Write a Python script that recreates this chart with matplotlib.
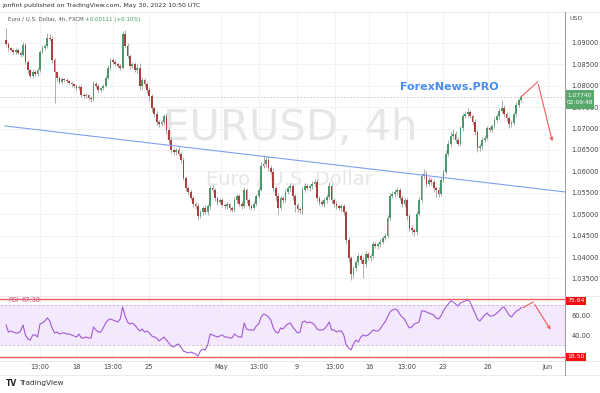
import matplotlib
matplotlib.use("Agg")
import matplotlib.pyplot as plt

# EUR/USD 4h, FXCM
first_open = 1.0907
closes = [
    1.0898, 1.0888, 1.0884, 1.0879, 1.0884, 1.0877, 1.0872, 1.0895, 1.0856, 1.0837,
    1.0823, 1.0832, 1.0828, 1.0837, 1.0879, 1.0888, 1.0893, 1.0912, 1.0910, 1.0860,
    1.0832, 1.0818, 1.0809, 1.0816, 1.0814, 1.0811, 1.0807, 1.0804, 1.0800, 1.0795,
    1.0797, 1.0779, 1.0776, 1.0778, 1.0772, 1.0769, 1.0804, 1.0800, 1.0790, 1.0795,
    1.0800, 1.0818, 1.0842, 1.0860, 1.0856, 1.0851, 1.0846, 1.0842, 1.0921, 1.0893,
    1.0870, 1.0846, 1.0851, 1.0837, 1.0842, 1.0800, 1.0814, 1.0804, 1.0790, 1.0776,
    1.0748, 1.0734, 1.0715, 1.0711, 1.0715, 1.0729, 1.0697, 1.0673, 1.0650, 1.0645,
    1.0650, 1.0641, 1.0627, 1.0585, 1.0561, 1.0552, 1.0538, 1.0524, 1.0519, 1.0496,
    1.0505, 1.0515, 1.0505, 1.0519, 1.0561, 1.0557, 1.0538, 1.0529, 1.0533, 1.0522,
    1.0519, 1.0524, 1.0515, 1.0510, 1.0533, 1.0543, 1.0524, 1.0519, 1.0557, 1.0533,
    1.0519, 1.0515, 1.0524, 1.0543, 1.0557, 1.0613, 1.0617, 1.0627, 1.0608, 1.0599,
    1.0561, 1.0543, 1.0515, 1.0538, 1.0533, 1.0552, 1.0561, 1.0566, 1.0543, 1.0522,
    1.0512, 1.0510, 1.0557, 1.0566, 1.0561, 1.0566, 1.0571, 1.0575, 1.0538, 1.0529,
    1.0524, 1.0533, 1.0540, 1.0566, 1.0533, 1.0524, 1.0519, 1.0515, 1.0519, 1.0505,
    1.0440, 1.0398, 1.0360, 1.0374, 1.0388, 1.0402, 1.0393, 1.0384, 1.0407, 1.0398,
    1.0402, 1.0430, 1.0426, 1.0430, 1.0435, 1.0444, 1.0449, 1.0492, 1.0543, 1.0547,
    1.0552, 1.0557, 1.0538, 1.0524, 1.0533, 1.0496, 1.0468, 1.0463, 1.0458, 1.0501,
    1.0533, 1.0589, 1.0594, 1.0571, 1.0580, 1.0575, 1.0561, 1.0557, 1.0547, 1.0580,
    1.0599, 1.0641, 1.0664, 1.0683, 1.0687, 1.0673, 1.0664, 1.0701, 1.0729, 1.0734,
    1.0739, 1.0729, 1.0715, 1.0692, 1.0655, 1.0659, 1.0673, 1.0678, 1.0701, 1.0697,
    1.0706, 1.0720, 1.0729, 1.0741, 1.0748, 1.0734, 1.0725, 1.0711, 1.0713, 1.0734,
    1.0755, 1.0767, 1.0774,
]
# wick lengths in pips beyond the body
wick_up = [
    28, 4, 3, 5, 3, 4, 3, 6, 5, 4, 3, 6, 4, 5, 4, 6, 5, 11, 8, 5,
    4, 3, 5, 4, 3, 5, 3, 4, 3, 5, 4, 5, 3, 4, 3, 4, 6, 5, 4, 3,
    5, 6, 7, 5, 4, 3, 4, 5, 7, 9, 6, 5, 4, 5, 8, 12, 6, 5, 4, 6,
    5, 4, 6, 4, 5, 6, 8, 5, 7, 4, 5, 6, 5, 7, 4, 5, 6, 5, 4, 6,
    5, 4, 6, 5, 7, 6, 5, 4, 5, 4, 5, 4, 3, 5, 6, 5, 4, 6, 7, 5,
    4, 5, 6, 5, 6, 8, 20, 6, 9, 7, 8, 5, 6, 5, 4, 6, 5, 7, 5, 4,
    5, 4, 6, 7, 5, 4, 6, 8, 7, 5, 4, 5, 6, 8, 5, 4, 6, 5, 4, 5,
    5, 6, 4, 5, 6, 7, 5, 6, 7, 5, 6, 8, 5, 4, 6, 5, 7, 6, 6, 8,
    6, 7, 5, 6, 5, 4, 5, 6, 5, 7, 6, 8, 12, 7, 6, 5, 6, 5, 6, 7,
    6, 8, 10, 9, 12, 8, 7, 6, 7, 6, 9, 5, 6, 7, 5, 6, 7, 6, 5, 6,
    5, 6, 5, 7, 19, 6, 5, 4, 6, 5, 6, 5, 4,
]
wick_dn = [
    5, 6, 4, 5, 6, 4, 5, 3, 5, 7, 6, 4, 5, 6, 4, 3, 5, 4, 5, 6,
    72, 6, 5, 4, 6, 5, 4, 6, 5, 4, 5, 6, 4, 5, 6, 7, 4, 5, 6, 5,
    4, 3, 4, 5, 6, 5, 4, 5, 4, 5, 6, 7, 5, 6, 8, 10, 7, 6, 8, 12,
    9, 7, 6, 8, 6, 7, 9, 8, 6, 7, 6, 5, 7, 6, 8, 7, 6, 8, 7, 9,
    6, 7, 5, 8, 6, 5, 7, 8, 6, 5, 6, 7, 8, 5, 6, 7, 6, 8, 5, 6,
    7, 6, 5, 6, 5, 4, 5, 6, 7, 6, 8, 12, 14, 6, 7, 5, 6, 7, 9, 16,
    8, 7, 10, 6, 5, 6, 7, 5, 8, 7, 6, 8, 7, 5, 6, 7, 8, 6, 7, 8,
    9, 10, 14, 8, 7, 6, 8, 33, 7, 6, 8, 6, 5, 7, 6, 5, 4, 5, 6, 5,
    6, 7, 6, 8, 7, 9, 8, 10, 8, 6, 5, 4, 6, 7, 6, 8, 10, 16, 8, 5,
    4, 5, 6, 7, 8, 6, 5, 4, 6, 5, 6, 5, 7, 8, 9, 7, 6, 5, 4, 6,
    5, 4, 5, 6, 5, 6, 7, 9, 8, 5, 4, 5, 4,
]
rsi = [
    50, 43, 44, 43, 42, 42, 44, 50, 40, 36, 35, 40, 40, 38, 51, 52, 54, 57, 54, 47,
    42, 43, 41, 42, 42, 41, 41, 40, 39, 38, 41, 37, 37, 38, 37, 37, 48, 45, 43, 43,
    47, 52, 55, 56, 55, 54, 53, 56, 68, 59, 53, 51, 52, 50, 47, 44, 46, 43, 44, 42,
    39, 38, 37, 34, 36, 38, 35, 32, 29, 28, 30, 31, 28, 24, 23, 22, 23, 22, 21, 19,
    24, 26, 25, 30, 41, 40, 39, 38, 39, 40, 38, 38, 37, 37, 41, 39, 38, 38, 52, 46,
    45, 45, 45, 49, 51, 58, 61, 60, 58, 55, 47, 43, 42, 47, 46, 49, 51, 52, 48, 45,
    42, 43, 53, 54, 52, 53, 52, 50, 46, 45, 45, 46, 49, 53, 45, 45, 43, 44, 44, 40,
    30, 27, 25, 31, 35, 33, 38, 40, 39, 40, 42, 45, 44, 44, 46, 50, 53, 58, 63, 65,
    66, 65, 61, 58, 56, 51, 47, 48, 51, 52, 53, 64, 64, 63, 62, 61, 60, 57, 56, 59,
    64, 68, 71, 74, 73, 71, 69, 72, 73, 74, 75, 73, 67, 62, 56, 54, 57, 60, 62, 59,
    59, 60, 62, 64, 67, 68, 64, 60, 58, 61, 64, 65, 67.38,
]
price_ticks = [1.035, 1.040, 1.045, 1.050, 1.055, 1.060, 1.065, 1.070, 1.075, 1.080, 1.085, 1.090]
time_pos = [14, 28.8, 44, 58.8, 88.5, 104, 119.8, 135.4, 149.4, 165, 179.8, 198.4, 223]
time_labels = ["13:00", "18", "13:00", "25", "May", "13:00", "9", "13:00", "16", "13:00", "23", "26", "Jun"]
trend_x = [-0.4, 230.0]
trend_y = [1.0706, 1.0552]
proj_x = [212, 218.8, 225.1]
proj_y = [1.0774, 1.0809, 1.0664]
rsi_proj_x = [212.8, 216.9, 224.7]
rsi_proj_y = [67.4, 73.0, 43.0]
rsi_marks = [75.64, 18.50]

W, H = 600, 393
n = len(closes)
idx = list(range(n))
opens = [first_open] + closes[:-1]
highs = [max(o, c) + u * 1e-4 for o, c, u in zip(opens, closes, wick_up)]
lows = [min(o, c) - d * 1e-4 for o, c, d in zip(opens, closes, wick_dn)]
up_col, dn_col = "#4b9a6c", "#ad3f3a"
cols = [up_col if c >= o else dn_col for o, c in zip(opens, closes)]

fig = plt.figure(figsize=(W / 100, H / 100), dpi=100)
fig.patch.set_facecolor("white")

ax = fig.add_axes([0, 1 - 296 / H, 565 / W, 284 / H])
ax2 = fig.add_axes([0, 1 - 360 / H, 565 / W, 64 / H], sharex=ax)

# price pane
ax.text(0.513, 0.59, "EURUSD, 4h", transform=ax.transAxes, ha="center", va="center",
        fontsize=30, color="#e6e6e6", zorder=0)
ax.text(0.513, 0.41, "Euro / U.S. Dollar", transform=ax.transAxes, ha="center", va="center",
        fontsize=14, color="#e6e6e6", zorder=0)
ax.vlines(idx, lows, highs, color="#a0a0a0", lw=0.6, zorder=2)
ax.bar(idx, [abs(c - o) if abs(c - o) > 0.00005 else 0.00005 for o, c in zip(opens, closes)],
       bottom=[min(o, c) for o, c in zip(opens, closes)], width=0.72, color=cols, lw=0, zorder=3)
ax.plot(trend_x, trend_y, color="#7d9ff2", lw=0.8, zorder=4)
ax.axhline(closes[-1], color="#c4c4c4", lw=0.6, ls=(0, (2, 2)), zorder=1)
ax.plot(proj_x[:2], proj_y[:2], color="#f25c5c", lw=0.8, zorder=5)
ax.annotate("", xy=(proj_x[2], proj_y[2]), xytext=(proj_x[1], proj_y[1]),
            arrowprops=dict(arrowstyle="->", color="#f25c5c", lw=0.8, mutation_scale=5), zorder=5)
ax.text(400 / 565, (296 - 87) / 284, "ForexNews.PRO", transform=ax.transAxes, ha="left", va="center",
        fontsize=8, fontweight="bold", color="#4a8df5", zorder=6)

ax.set_xlim(-2.47, 230.04)
ax.set_ylim(1.0309, 1.0972)
ax.set_yticks(price_ticks, [f"{v:.5f}" for v in price_ticks])
ax.yaxis.tick_right()
ax.tick_params(axis="y", length=0, pad=4.5, labelsize=4.8, labelcolor="#444444")
ax.set_xticks(time_pos)
ax.tick_params(axis="x", length=0, labelbottom=False)
ax.grid(color="#f0f0f0", lw=0.6)
ax.set_axisbelow(True)
for s in ax.spines.values():
    s.set_visible(False)

# RSI pane
ax2.axhspan(30, 70, color="#f3e8fd", lw=0, zorder=0)
ax2.axhline(70, color="#c9b3dc", lw=0.6, ls=(0, (3, 2)), zorder=1)
ax2.axhline(30, color="#c9b3dc", lw=0.6, ls=(0, (3, 2)), zorder=1)
for lv in rsi_marks:
    ax2.axhline(lv, color="#f25c5c", lw=1.0, zorder=3)
ax2.plot(idx, rsi, color="#a259d6", lw=0.8, zorder=4)
ax2.plot(rsi_proj_x[:2], rsi_proj_y[:2], color="#f25c5c", lw=0.8, zorder=5)
ax2.annotate("", xy=(rsi_proj_x[2], rsi_proj_y[2]), xytext=(rsi_proj_x[1], rsi_proj_y[1]),
             arrowprops=dict(arrowstyle="->", color="#f25c5c", lw=0.8, mutation_scale=5), zorder=5)
ax2.text(8 / 565, 0.93, "RSI", transform=ax2.transAxes, ha="left", va="center",
         fontsize=4.8, color="#c05a8a")
ax2.text(22 / 565, 0.93, f"{rsi[-1]:.2f}", transform=ax2.transAxes, ha="left", va="center",
         fontsize=4.8, color="#c05a8a")
ax2.set_ylim(15, 79)
ax2.set_yticks([40, 60], ["40.00", "60.00"])
ax2.yaxis.tick_right()
ax2.tick_params(axis="y", length=0, pad=4.5, labelsize=4.8, labelcolor="#444444")
ax2.set_xticks(time_pos, time_labels)
ax2.tick_params(axis="x", length=0, pad=3.2, labelsize=4.8, labelcolor="#444444")
ax2.grid(color="#f0f0f0", lw=0.6)
ax2.set_axisbelow(True)
for s in ax2.spines.values():
    s.set_visible(False)

# frame lines
def hline(y, x0=0, x1=W, c="#e6e6e6", lw=0.6):
    fig.add_artist(plt.Line2D([x0 / W, x1 / W], [1 - y / H, 1 - y / H], color=c, lw=lw))

hline(12)
hline(296)
hline(361)
hline(375)
fig.add_artist(plt.Line2D([565 / W, 565 / W], [1 - 12 / H, 1 - 375 / H], color="#9a9a9a", lw=0.7))

# price scale labels
fig.text(570 / W, 1 - 18 / H, "USD", fontsize=4.6, color="#555555", va="center")
fig.add_artist(plt.Rectangle((566 / W, 1 - 109 / H), 28 / W, 19 / H, color="#58a86c", lw=0))
fig.text(580 / W, 1 - 95.5 / H, "1.07740", fontsize=4.2, color="white", ha="center", va="center")
fig.text(580 / W, 1 - 103 / H, "02:09:48", fontsize=4.2, color="white", ha="center", va="center")
for lv, yy in zip(rsi_marks, [300.5, 356.5]):
    fig.add_artist(plt.Rectangle((566 / W, 1 - (yy + 4) / H), 20 / W, 8 / H, color="#f20f0f", lw=0))
    fig.text(576 / W, 1 - yy / H, f"{lv:.2f}", fontsize=4.4, color="white", ha="center", va="center")

# header
fig.text(2 / W, 1 - 6 / H, "jonfint published on TradingView.com, May 30, 2022 10:50 UTC",
         fontsize=4.5, color="#333333", va="center")
fig.text(8 / W, 1 - 19 / H, "Euro / U.S. Dollar, 4h, FXCM", fontsize=4.0, color="#555555", va="center")
fig.text(85 / W, 1 - 19 / H, "+0.00111 (+0.10%)", fontsize=4.0, color="#3a9e5f", va="center")

# footer logo
fig.text(6 / W, 1 - 383 / H, "TV", fontsize=5.5, fontweight="bold", color="#222222", va="center")
fig.text(19 / W, 1 - 383 / H, "TradingView", fontsize=5.3, color="#333333", va="center")

fig.savefig("out.png", dpi=100, facecolor="white")
